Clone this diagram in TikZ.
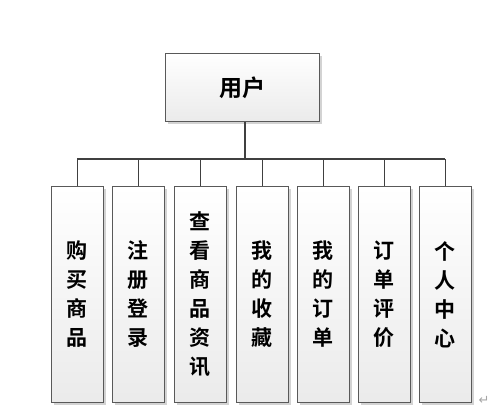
\documentclass[tikz,border=0pt]{standalone}
\usepackage{fontspec}
\newfontfamily\cjk{Noto Sans CJK SC Bold}
\newfontfamily\dvs{DejaVu Sans}
\usetikzlibrary{shadows}
\begin{document}
\begin{tikzpicture}[x=1pt,y=-1pt,
  box/.style={draw=black!65, line width=0.8pt, top color=white, bottom color=black!8,
    drop shadow={shadow xshift=2.5pt, shadow yshift=-2.5pt, opacity=0.35, fill=black!50},
    inner sep=0pt, anchor=north west},
  conn/.style={draw=black!75, line width=1.4pt},
  ctext/.style={font=\cjk\fontsize{21}{29}\selectfont, align=center}]
\useasboundingbox (0,0) rectangle (495,415);
\node[box, minimum width=154pt, minimum height=68pt, font=\cjk\fontsize{23}{25}\selectfont] (top) at (165,53) {用户};
\foreach \i/\x/\t in {1/51/{购\\买\\商\\品},2/112/{注\\册\\登\\录},3/174/{查\\看\\商\\品\\资\\讯},4/236/{我\\的\\收\\藏},5/297/{我\\的\\订\\单},6/358/{订\\单\\评\\价},7/419/{个\\人\\中\\心}}{
  \node[box, minimum width=52pt, minimum height=216pt] (c\i) at (\x,186) {};
  \node[ctext] at (c\i.center) {\t};
}
\coordinate (J) at (245,159);
\draw[conn] (J |- top.south) -- (J);
\draw[conn] (c1.north |- J) -- (c7.north |- J);
\foreach \i in {1,...,7}{
  \draw[conn] (c\i.north |- J) -- (c\i.north);
}
\node[font=\dvs\fontsize{13}{14}\selectfont, text=black!35] (ret) at (484,400) {↵};
\end{tikzpicture}
\end{document}
